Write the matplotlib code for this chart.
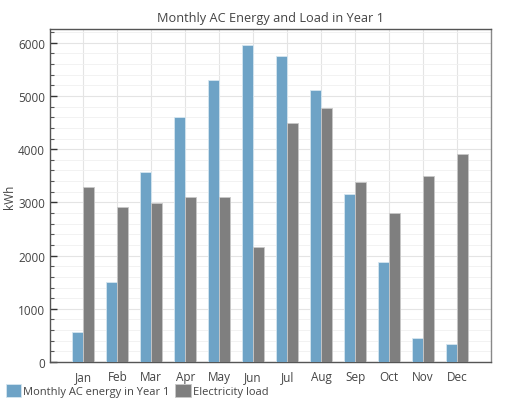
import matplotlib
matplotlib.use("Agg")
import matplotlib.pyplot as plt
import numpy as np
from matplotlib.ticker import MultipleLocator

months = ["Jan", "Feb", "Mar", "Apr", "May", "Jun", "Jul", "Aug", "Sep", "Oct", "Nov", "Dec"]
ac_energy = [560, 1500, 3570, 4610, 5310, 5960, 5750, 5120, 3160, 1880, 450, 330]
elec_load = [3290, 2920, 2990, 3110, 3100, 2170, 4490, 4770, 3390, 2800, 3490, 3910]

plt.rcParams['font.family'] = ['Open Sans', 'DejaVu Sans']
txt = '#444444'

fig = plt.figure(figsize=(5.15, 4.06), dpi=100)
ax = fig.add_axes([50/515, 1-363/406, 441/515, 333/406])

x = np.arange(len(months))
w = 0.32
ax.bar(x - w/2, ac_energy, width=w, color='#6ea3c6', edgecolor='#d6e6f0', linewidth=0.6,
       label='Monthly AC energy in Year 1', zorder=3)
ax.bar(x + w/2, elec_load, width=w, color='#7f7f7f', edgecolor='#c8c8c8', linewidth=0.6,
       label='Electricity load', zorder=3)

ax.set_xlim(-0.98, 12.0)
ax.set_ylim(0, 6260)
ax.set_xticks(x)
ax.set_xticklabels(months)
ax.yaxis.set_major_locator(MultipleLocator(1000))
ax.yaxis.set_minor_locator(MultipleLocator(200))
ax.grid(True, which='major', color='#e4e4e4', linewidth=0.8, zorder=0)
ax.grid(True, which='minor', axis='y', color='#f0f0f0', linewidth=0.6, zorder=0)
ax.set_axisbelow(True)

ax.tick_params(axis='both', which='major', direction='in', length=5, width=1, colors='#333333',
               labelcolor=txt, labelsize=8.5)
ax.tick_params(axis='y', which='minor', direction='in', length=3, width=0.8, colors='#555555')
ax.tick_params(axis='x', which='major', pad=6)
for s in ['left', 'bottom', 'top']:
    ax.spines[s].set_color('#555555')
ax.spines['right'].set_color('#888888')
for s in ax.spines.values():
    s.set_linewidth(1.0)

ax.set_ylabel('kWh', color=txt, fontsize=8.5)
ax.yaxis.set_label_coords(-0.078, 0.5)
ax.set_title('Monthly AC Energy and Load in Year 1', color=txt, fontsize=9.2, pad=6)

fig.legend(loc='lower left', bbox_to_anchor=(0.0, 0.005), ncol=2, frameon=False,
           fontsize=8.0, labelcolor=txt, handlelength=1.4, handleheight=1.4,
           handletextpad=0.2, columnspacing=0.5, borderaxespad=0.1)

fig.savefig('out.png', dpi=100)
